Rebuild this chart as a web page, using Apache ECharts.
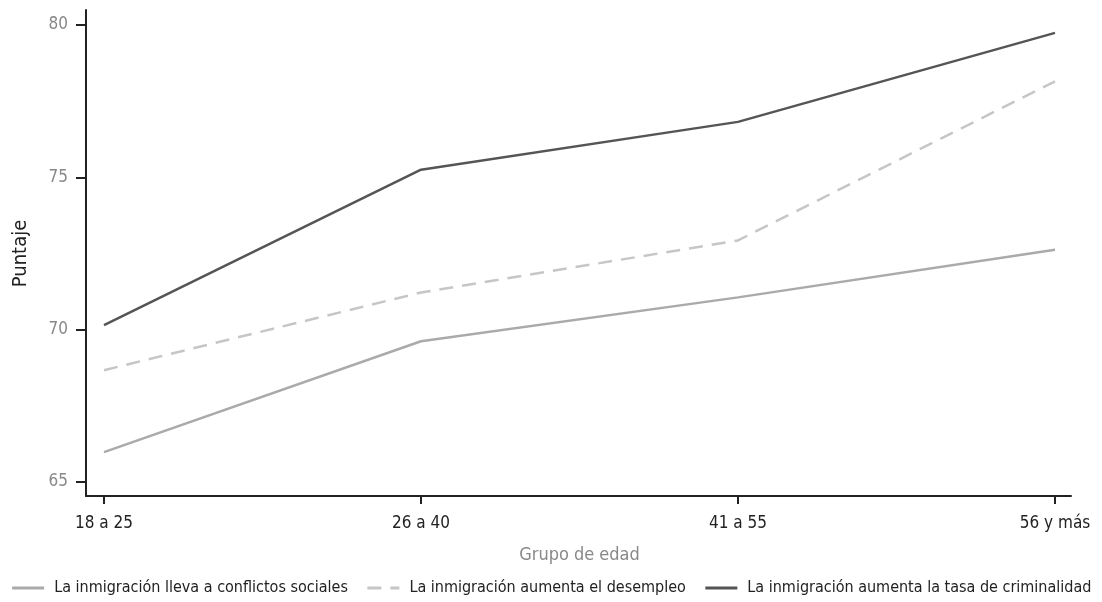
<!DOCTYPE html>
<html><head><meta charset="utf-8">
<script src="https://cdn.jsdelivr.net/npm/echarts@6/dist/echarts.min.js"></script>
<style>html,body{margin:0;padding:0;background:#fff}#c{width:1102px;height:602px}</style>
</head><body><div id="c"></div>
<script>
const categories = ['18 a 25', '26 a 40', '41 a 55', '56 y más'];
const conflictos = [65.98, 69.62, 71.06, 72.62];
const desempleo = [68.67, 71.22, 72.93, 78.15];
const criminalidad = [70.15, 75.25, 76.82, 79.74];
const yTicks = [65, 70, 75, 80];
const seriesNames = ['La inmigración lleva a conflictos sociales', 'La inmigración aumenta el desempleo', 'La inmigración aumenta la tasa de criminalidad'];

const FONT = '"Liberation Sans Narrow", "DejaVu Sans Condensed", sans-serif';
const chart = echarts.init(document.getElementById('c'));
chart.setOption({
  animation: false,
  textStyle: { fontFamily: FONT },
  grid: [
    { left: 104, right: 47, top: 25, bottom: 120 },
    { left: 86, right: 31, top: 10, bottom: 106 }
  ],
  xAxis: [
    { type: 'category', gridIndex: 0, data: categories, boundaryGap: false, offset: 14,
      axisLine: { show: false },
      axisTick: { show: true, alignWithLabel: true, length: 8, lineStyle: { color: '#222', width: 2 } },
      axisLabel: { color: '#222', fontSize: 17, fontFamily: FONT, margin: 19 },
      name: 'Grupo de edad', nameLocation: 'middle', nameGap: 50,
      nameTextStyle: { color: '#888', fontSize: 18, fontFamily: FONT },
      splitLine: { show: false } },
    { type: 'value', gridIndex: 1, min: 0, max: 1, axisLine: { show: true, onZero: false, lineStyle: { color: '#222', width: 2 } },
      axisTick: { show: false }, axisLabel: { show: false }, splitLine: { show: false } }
  ],
  yAxis: [
    { type: 'value', gridIndex: 0, min: yTicks[0], max: yTicks[yTicks.length - 1], interval: 5, offset: 18,
      axisLine: { show: false },
      axisTick: { show: true, length: 10, lineStyle: { color: '#222', width: 2 } },
      axisLabel: { color: '#888', fontSize: 17, fontFamily: FONT, margin: 18 },
      name: 'Puntaje', nameLocation: 'middle', nameGap: 55, nameRotate: 90,
      nameTextStyle: { color: '#222', fontSize: 20, fontFamily: FONT },
      splitLine: { show: false } },
    { type: 'value', gridIndex: 1, min: 0, max: 1, axisLine: { show: true, onZero: false, lineStyle: { color: '#222', width: 2 } },
      axisTick: { show: false }, axisLabel: { show: false }, splitLine: { show: false } }
  ],
  legend: {
    bottom: 1, left: 'center', width: 1100, itemWidth: 32, itemHeight: 14, itemGap: 18,
    itemStyle: { opacity: 0 },
    lineStyle: { width: 3 },
    textStyle: { color: '#222', fontSize: 16, fontFamily: FONT, padding: [0, 0, 0, 5] },
    data: seriesNames
  },
  series: [
    { name: seriesNames[0], type: 'line', data: conflictos, symbol: 'none', color: '#aaaaaa',
      lineStyle: { color: '#aaaaaa', width: 2.5 } },
    { name: seriesNames[1], type: 'line', data: desempleo, symbol: 'none', color: '#c6c6c6',
      lineStyle: { color: '#c6c6c6', width: 2.5, type: [14, 9] } },
    { name: seriesNames[2], type: 'line', data: criminalidad, symbol: 'none', color: '#555555',
      lineStyle: { color: '#555555', width: 2.5 } }
  ]
});
</script></body></html>
